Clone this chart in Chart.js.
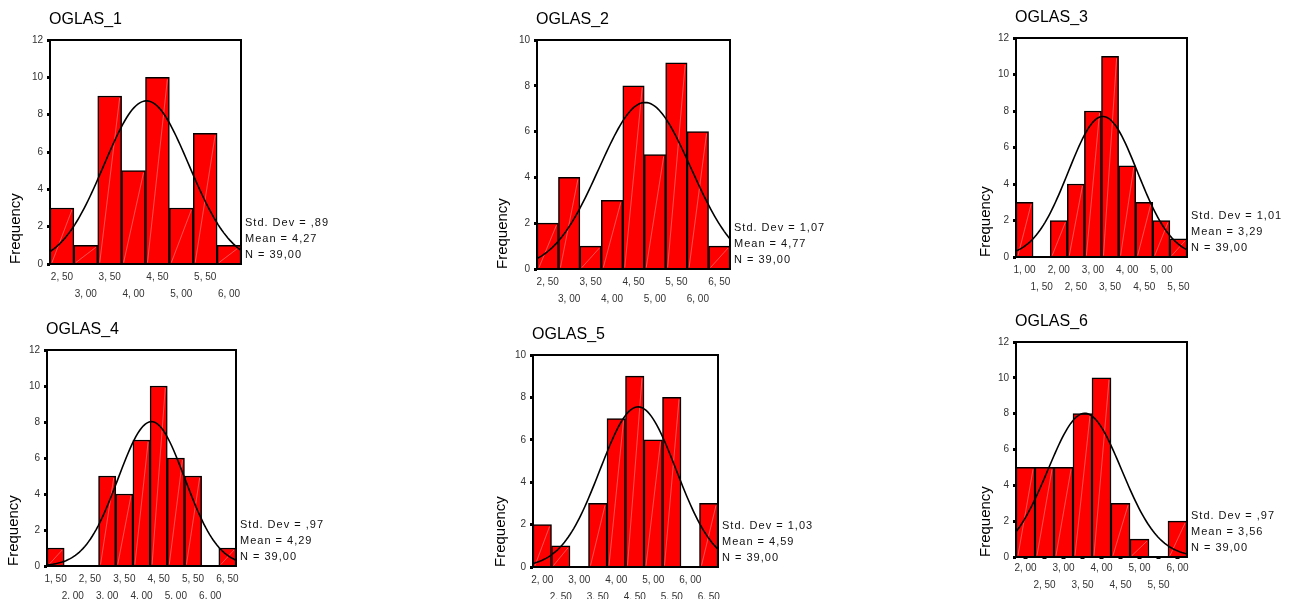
<!DOCTYPE html>
<html><head><meta charset="utf-8">
<script src="https://cdn.jsdelivr.net/npm/chart.js@4/dist/chart.umd.min.js"></script>
<style>
html,body{margin:0;padding:0;background:#fff;width:1296px;height:599px;overflow:hidden;position:relative}
canvas{position:absolute}
</style>
</head><body>
<script>
// ---------- DATA ----------
const titles = ['OGLAS_1', 'OGLAS_2', 'OGLAS_3', 'OGLAS_4', 'OGLAS_5', 'OGLAS_6'];

const bins1 = [2.5, 3.0, 3.5, 4.0, 4.5, 5.0, 5.5, 6.0];
const counts1 = [3, 1, 9, 5, 10, 3, 7, 1];

const bins2 = [2.5, 3.0, 3.5, 4.0, 4.5, 5.0, 5.5, 6.0, 6.5];
const counts2 = [2, 4, 1, 3, 8, 5, 9, 6, 1];

const bins3 = [1.0, 1.5, 2.0, 2.5, 3.0, 3.5, 4.0, 4.5, 5.0, 5.5];
const counts3 = [3, 0, 2, 4, 8, 11, 5, 3, 2, 1];

const bins4 = [1.5, 2.0, 2.5, 3.0, 3.5, 4.0, 4.5, 5.0, 5.5, 6.0, 6.5];
const counts4 = [1, 0, 0, 5, 4, 7, 10, 6, 5, 0, 1];

const bins5 = [2.0, 2.5, 3.0, 3.5, 4.0, 4.5, 5.0, 5.5, 6.0, 6.5];
const counts5 = [2, 1, 0, 3, 7, 9, 6, 8, 0, 3];

const bins6 = [2.0, 2.5, 3.0, 3.5, 4.0, 4.5, 5.0, 5.5, 6.0];
const counts6 = [5, 5, 5, 8, 10, 3, 1, 0, 2];

const means = [4.27, 4.77, 3.29, 4.29, 4.59, 3.56];
const stdDevs = [0.89, 1.07, 1.01, 0.97, 1.03, 0.97];
const nValues = [39, 39, 39, 39, 39, 39];
const yMaxes = [12, 10, 12, 12, 10, 12];
const binWidth = 0.5;

const allBins = [bins1, bins2, bins3, bins4, bins5, bins6];
const allCounts = [counts1, counts2, counts3, counts4, counts5, counts6];

// ---------- LAYOUT ----------
const boxes = [
  {L: 50,   T: 40,  R: 241,  B: 264, fo: 34},
  {L: 537,  T: 40,  R: 730,  B: 269, fo: 34},
  {L: 1016, T: 38,  R: 1187, B: 257, fo: 30},
  {L: 47,   T: 350, R: 236,  B: 566, fo: 33},
  {L: 533,  T: 355, R: 718,  B: 567, fo: 32},
  {L: 1016, T: 342, R: 1187, B: 557, fo: 30, xticks: true}
];
const PL = 50, PT = 40, PR = 100, PB = 40;

function fmtTick(v) { return v.toFixed(2).replace('.', ', '); }
function fmtStat(v) { let s = v.toFixed(2).replace('.', ','); if (s.startsWith('0')) s = s.slice(1); return s; }

function normalCurve(mean, sd, n, lo, hi) {
  const pts = [];
  const k = n * binWidth / (sd * Math.sqrt(2 * Math.PI));
  const steps = 100;
  for (let i = 0; i <= steps; i++) {
    const x = lo + (hi - lo) * i / steps;
    pts.push({x: x, y: k * Math.exp(-0.5 * Math.pow((x - mean) / sd, 2))});
  }
  return pts;
}

const hatchPlugin = {
  id: 'hatch',
  afterDatasetDraw(chart, args) {
    const meta = args.meta;
    if (meta.type !== 'bar') return;
    const ctx = chart.ctx;
    ctx.save();
    ctx.strokeStyle = 'rgba(255,170,170,0.8)';
    ctx.lineWidth = 0.6;
    meta.data.forEach(el => {
      const p = el.getProps(['x', 'y', 'base', 'width'], true);
      if (p.base - p.y < 2) return;
      ctx.beginPath();
      ctx.moveTo(p.x - p.width / 2 + 2, p.base - 1);
      ctx.lineTo(p.x + p.width / 2 - 2, p.y + 2);
      ctx.stroke();
    });
    ctx.restore();
  }
};

function makeDecor(idx) {
  return {
    id: 'decor' + idx,
    afterDraw(chart) {
      const ctx = chart.ctx;
      const a = chart.chartArea;
      ctx.save();
      ctx.strokeStyle = '#000';
      ctx.lineWidth = 2;
      ctx.strokeRect(a.left, a.top, a.right - a.left, a.bottom - a.top);
      ctx.fillStyle = '#000';
      ctx.textBaseline = 'middle';
      ctx.textAlign = 'left';
      ctx.font = '16px "Liberation Sans"';
      ctx.fillText(titles[idx], a.left - 1, a.top - 20);
      ctx.font = '11px "Liberation Sans"';
      try { ctx.letterSpacing = '1px'; } catch (e) {}
      ctx.fillStyle = '#111';
      const lines = [
        'Std. Dev = ' + fmtStat(stdDevs[idx]),
        'Mean = ' + fmtStat(means[idx]),
        'N = ' + fmtStat(nValues[idx])
      ];
      lines.forEach((t, i) => ctx.fillText(t, a.right + 4, a.bottom - 41 + i * 16));
      ctx.restore();
    }
  };
}

for (let idx = 0; idx < 6; idx++) {
  const b = boxes[idx];
  const bins = allBins[idx];
  const counts = allCounts[idx];
  const lo = bins[0] - binWidth / 2;
  const hi = bins[bins.length - 1] + binWidth / 2;
  const cv = document.createElement('canvas');
  const w = (b.R - b.L) + PL + PR;
  const h = (b.B - b.T) + PT + PB;
  cv.width = w; cv.height = h;
  cv.style.left = (b.L - PL) + 'px';
  cv.style.top = (b.T - PT) + 'px';
  cv.style.width = w + 'px';
  cv.style.height = h + 'px';
  document.body.appendChild(cv);

  new Chart(cv, {
    type: 'bar',
    data: {
      datasets: [
        {
          type: 'line',
          data: normalCurve(means[idx], stdDevs[idx], nValues[idx], lo, hi),
          borderColor: '#000',
          borderWidth: 1.6,
          pointRadius: 0,
          fill: false,
          tension: 0,
          order: 0
        },
        {
          type: 'bar',
          data: bins.map((x, i) => ({x: x, y: counts[i]})),
          backgroundColor: '#ff0000',
          borderColor: '#000',
          borderWidth: 1.5,
          borderSkipped: 'start',
          barPercentage: 1,
          categoryPercentage: 1,
          order: 1
        }
      ]
    },
    options: {
      responsive: false,
      animation: false,
      devicePixelRatio: 1,
      events: [],
      layout: {padding: {left: 0, top: PT, right: PR, bottom: 0}},
      plugins: {legend: {display: false}, tooltip: {enabled: false}, title: {display: false}},
      scales: {
        x: {
          type: 'linear',
          min: lo,
          max: hi,
          offset: false,
          afterBuildTicks: s => { s.ticks = bins.map(v => ({value: v})); },
          afterFit: s => { s.height = PB; },
          grid: {display: !!b.xticks, drawOnChartArea: false, drawTicks: true, tickLength: 2, tickWidth: 4, color: '#000', offset: false},
          border: {display: false},
          ticks: {
            autoSkip: false, maxRotation: 0, minRotation: 0,
            padding: b.xticks ? 1 : 3,
            color: '#333',
            font: {family: 'Liberation Sans', size: 10, lineHeight: 1.7},
            callback: (v, i) => { const t = fmtTick(v); return i % 2 === 0 ? t : ['', t]; }
          }
        },
        y: {
          min: 0,
          max: yMaxes[idx],
          afterFit: s => { s.width = PL; },
          grid: {display: true, drawOnChartArea: false, drawTicks: true, tickLength: 3, tickWidth: 3, color: '#000'},
          border: {display: false},
          ticks: {stepSize: 2, padding: 4, color: '#333', font: {family: 'Liberation Sans', size: 10}},
          title: {
            display: true, text: 'Frequency', align: 'start', color: '#000',
            font: {family: 'Liberation Sans', size: 15, lineHeight: 1.2},
            padding: {top: PL - b.fo - 9, bottom: 0}
          }
        }
      }
    },
    plugins: [hatchPlugin, makeDecor(idx)]
  });
}
</script>
</body></html>
